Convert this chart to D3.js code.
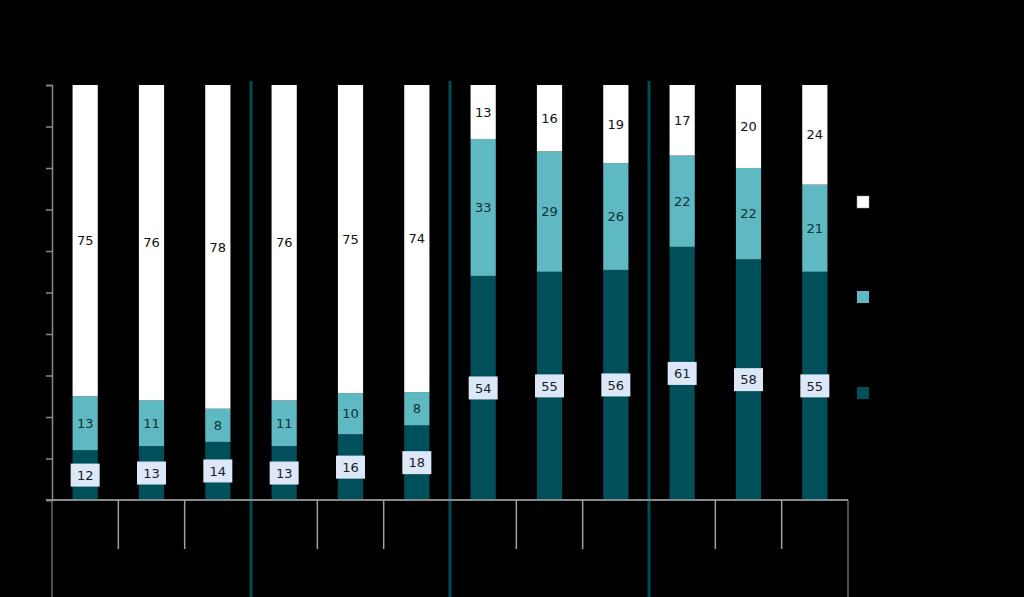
<!DOCTYPE html>
<html><head><meta charset="utf-8">
<script src="https://cdn.jsdelivr.net/npm/d3@7"></script>
<style>html,body{margin:0;padding:0;background:#000;}svg{display:block;}</style>
</head><body>
<svg id="c" width="1024" height="597"></svg>
<script>
const categories = ["1","2","3","4","5","6","7","8","9","10","11","12"];
const groups = [["1","2","3"],["4","5","6"],["7","8","9"],["10","11","12"]];
const seriesNames = ["s1","s2","s3"];
const bottomValues = [12,13,14,13,16,18,54,55,56,61,58,55];
const middleValues = [13,11,8,11,10,8,33,29,26,22,22,21];
const topValues = [75,76,78,76,75,74,13,16,19,17,20,24];
const yTicks = [0,10,20,30,40,50,60,70,80,90,100];
const colors = ["#00505b","#5fb9c2","#ffffff"];

(function(){
const svg = d3.select("#c");
const mL = 52, mR = 848, mT = 85, mB = 500;
const x = d3.scaleBand().domain(categories).range([mL,mR]).paddingInner(0.62).paddingOuter(0.31);
const y = d3.scaleLinear().domain([0,100]).range([mB,mT]);

const rows = categories.map((c,i)=>({cat:c,s1:bottomValues[i],s2:middleValues[i],s3:topValues[i]}));
const stack = d3.stack().keys(seriesNames).offset(d3.stackOffsetExpand);
const stacked = stack(rows);
const slot = (mR-mL)/categories.length;

// group separators
svg.selectAll(".sep").data(groups.slice(1)).enter().append("line")
  .attr("x1", g => mL + categories.indexOf(g[0])*slot)
  .attr("x2", g => mL + categories.indexOf(g[0])*slot)
  .attr("y1", 81).attr("y2", 597)
  .attr("stroke","#004b57").attr("stroke-width",3);

// bars
svg.selectAll(".layer").data(stacked).enter().append("g")
  .attr("fill",(d,i)=>colors[i])
  .selectAll("rect").data(d=>d).enter().append("rect")
  .attr("x", d=>x(d.data.cat)).attr("width", x.bandwidth())
  .attr("y", d=>y(d[1]*100)).attr("height", d=>y(d[0]*100)-y(d[1]*100));

// y axis
const yAxis = d3.axisLeft(y).tickValues(yTicks).tickSize(6).tickFormat(d=>d);
const ya = svg.append("g").attr("transform",`translate(${mL},0)`).call(yAxis);
ya.select(".domain").attr("stroke","#8a8a8a").attr("stroke-width",1.5);
ya.selectAll(".tick line").attr("stroke","#8a8a8a").attr("stroke-width",1.5);
ya.selectAll(".tick text").attr("fill","#000").style("font-family","DejaVu Sans").style("font-size","12px");

// x axis baseline
svg.append("line").attr("x1",mL-6).attr("x2",mR).attr("y1",mB).attr("y2",mB)
  .attr("stroke","#8a8a8a").attr("stroke-width",2);
[mL,mR].forEach(xx=>svg.append("line").attr("x1",xx).attr("x2",xx).attr("y1",mB).attr("y2",597)
  .attr("stroke","#9a9a9a").attr("stroke-width",1));
const bounds = d3.range(1,categories.length).filter(i=>i%3!==0).map(i=>mL+i*slot);
svg.selectAll(".ct").data(bounds).enter().append("line")
  .attr("x1",d=>d).attr("x2",d=>d).attr("y1",mB).attr("y2",549)
  .attr("stroke","#a0a0a0").attr("stroke-width",1.5);
svg.selectAll(".cl").data(categories).enter().append("text")
  .attr("x",c=>x(c)+x.bandwidth()/2).attr("y",520).attr("text-anchor","middle")
  .attr("fill","#000").style("font-family","DejaVu Sans").style("font-size","12px").text(c=>c);

const font = "DejaVu Sans";
const lb = svg.selectAll(".lb").data(stacked[0]).enter().append("g")
  .attr("transform",d=>`translate(${x(d.data.cat)+x.bandwidth()/2},${y((d[0]+d[1])/2*100)})`);
lb.append("rect").attr("x",-14.5).attr("y",-11.5).attr("width",29).attr("height",23).attr("fill","#dce8f8");
lb.append("text").attr("text-anchor","middle").attr("dy","0.36em").attr("fill","#1a1a2a")
  .style("font-family",font).style("font-size","13px").text(d=>d.data.s1);
svg.selectAll(".lm").data(stacked[1]).enter().append("text")
  .attr("x",d=>x(d.data.cat)+x.bandwidth()/2).attr("y",d=>y((d[0]+d[1])/2*100))
  .attr("text-anchor","middle").attr("dy","0.36em").attr("fill","#0b3038")
  .style("font-family",font).style("font-size","13px").text(d=>d.data.s2);
svg.selectAll(".lt").data(stacked[2]).enter().append("text")
  .attr("x",d=>x(d.data.cat)+x.bandwidth()/2).attr("y",d=>y((d[0]+d[1])/2*100))
  .attr("text-anchor","middle").attr("dy","0.36em").attr("fill","#111")
  .style("font-family",font).style("font-size","13px").text(d=>d.data.s3);

const legY = [387,291,196];
seriesNames.forEach((s,i)=>{
  svg.append("rect").attr("x",857).attr("y",legY[i]).attr("width",12).attr("height",12)
    .attr("fill",colors[i]).attr("stroke", i===2?"#999":"none").attr("stroke-width",0.5);
  svg.append("text").attr("x",878).attr("y",legY[i]+10).attr("fill","#000")
    .style("font-family",font).style("font-size","12px").text(s);
});
})();
</script>
</body></html>
